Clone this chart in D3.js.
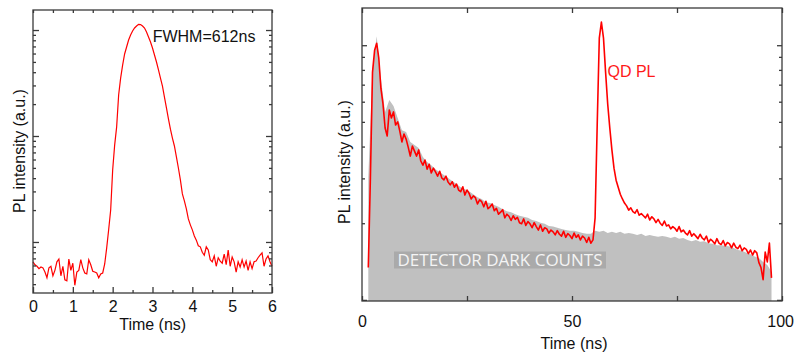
<!DOCTYPE html>
<meta charset="utf-8">
<style>
  body { margin: 0; background: #fff; }
  svg { display: block; font-family: "Liberation Sans", Arial, sans-serif; }
  .frame { fill: none; stroke: #3a3a3a; stroke-width: 1.3; }
  .ticks line { stroke: #3a3a3a; stroke-width: 1.3; }
  .ticks path { display: none; }
  .ticks text { font-size: 16px; fill: #111; font-family: "Liberation Sans", Arial, sans-serif; }
  .title { font-size: 16px; fill: #111; }
</style>
<body>
<script src="https://d3js.org/d3.v7.min.js"></script>
<script>
// left panel: instrument response, sampled every 0.05 ns from 0 ns
var irfStart = 0, irfStep = 0.05;
var irfCounts = [
  6.5, 6.1, 5.9, 5.6, 5.8, 5.7, 5.2, 4.6, 5.7, 5.9,
  4.8, 5.4, 6.5, 6.9, 4.8, 5.9, 4.4, 4.3, 6.9, 5.4,
  6.3, 3.9, 5.2, 5.4, 6.8, 5.7, 5.1, 5.0, 6.8, 6.1,
  5.3, 5.2, 5.1, 4.6, 5.0, 5.1, 6.2, 8.8, 13.1, 20,
  47.8, 82, 122, 244, 352, 467, 594, 691, 805, 897,
  979, 1045, 1091, 1130, 1125, 1091, 1045, 957, 859, 771,
  676, 581, 499, 420, 352, 296, 233, 184, 145, 116,
  95.7, 80.5, 63.4, 49.9, 38.5, 28.4, 24.4, 20.5, 16.5, 14.5,
  13.0, 11.4, 10.4, 9.2, 9.0, 8.0, 7.5, 9.0, 8.4, 6.8,
  6.5, 7.4, 5.9, 7.1, 6.6, 6.3, 7.7, 6.1, 8.4, 5.9,
  7.2, 6.5, 5.2, 6.5, 5.8, 6.8, 5.8, 6.6, 5.4, 6.5,
  5.6, 6.5, 6.6, 7.1, 7.5, 7.9, 5.9, 6.9, 7.4, 6.5, 5.9
];
var irfTimeTicks = [0, 1, 2, 3, 4, 5, 6];
var irfTimeMinor = [0.5, 1.5, 2.5, 3.5, 4.5, 5.5];
var irfYMajor = [10, 100, 1000];
var irfYMinor = [4, 5, 6, 7, 8, 9, 20, 30, 40, 50, 60, 70, 80, 90, 200, 300, 400, 500, 600, 700, 800, 900];

// right panel: QD PL, sampled every 0.5 ns from 1.5 ns
var plStart = 1.5, plStep = 0.5;
var plCounts = [
  134, 301, 782, 955, 1018, 889, 678, 588, 473, 440,
  557, 518, 547, 486, 500, 460, 417, 448, 428, 398,
  367, 402, 384, 367, 388, 351, 338, 354, 326, 341,
  315, 329, 318, 306, 320, 301, 296, 306, 290, 283,
  291, 277, 285, 270, 266, 278, 258, 270, 262, 249,
  256, 252, 238, 247, 243, 232, 244, 228, 232, 238,
  224, 229, 217, 221, 226, 210, 217, 213, 205, 214,
  207, 211, 201, 199, 208, 196, 203, 199, 192, 201,
  194, 188, 197, 186, 192, 190, 183, 188, 185, 180,
  187, 181, 178, 186, 176, 182, 179, 174, 183, 176,
  180, 172, 178, 175, 168, 176, 167, 172, 210, 486,
  1066, 1232, 1066, 782, 588, 473, 388, 329, 295, 277,
  260, 249, 240, 234, 225, 230, 222, 219, 226, 215,
  218, 214, 210, 217, 206, 212, 208, 201, 207, 200,
  196, 204, 195, 197, 190, 194, 191, 186, 194, 185,
  188, 183, 180, 187, 178, 182, 178, 174, 181, 175,
  172, 178, 168, 173, 170, 166, 174, 167, 165, 171,
  163, 168, 166, 160, 167, 161, 159, 164, 156, 160,
  158, 152, 157, 150, 156, 153, 140, 134, 120, 154,
  141, 167, 122
];
// detector dark counts, every 1 ns from 1.5 ns
var darkStart = 1.5, darkStep = 1;
var darkCounts = [
  303, 810, 1085, 742, 547, 610, 577, 518, 464, 456,
  417, 406, 395, 364, 348, 338, 326, 317, 309, 301,
  293, 285, 277, 272, 267, 260, 253, 249, 242, 240,
  236, 232, 227, 223, 221, 217, 214, 212, 210, 206,
  204, 201, 199, 195, 194, 192, 190, 188, 187, 187,
  185, 183, 182, 182, 187, 185, 187, 183, 185, 183,
  185, 182, 183, 182, 180, 182, 178, 180, 178, 177,
  178, 177, 175, 177, 174, 175, 172, 170, 172, 169,
  170, 167, 166, 164, 164, 163, 162, 160, 157, 156,
  153, 151, 148, 146, 141, 137, 129
];
var plTimeLabels = [0, 50, 100];
var plTimeMinor = [25, 75];
var plYMajor = [100, 1000];
var plYMinor = [200, 300, 400, 500, 600, 700, 800, 900];

var svg = d3.select("body").append("svg")
    .attr("width", 794)
    .attr("height", 353);

function toPoints(counts, t0, dt) {
  return counts.map(function(v, i) { return { t: t0 + i * dt, v: v }; });
}

function frameAxes(g, x, y, box, o) {
  // ticks point inward on all four sides
  var labels = g.append("g").attr("class", "ticks")
    .attr("transform", "translate(0," + box.bottom + ")")
    .call(d3.axisBottom(x).tickValues(o.xLabels).tickSizeInner(-o.major).tickSizeOuter(0)
      .tickPadding(o.pad).tickFormat(d3.format("d")));
  g.append("g").attr("class", "ticks")
    .attr("transform", "translate(0," + box.bottom + ")")
    .call(d3.axisBottom(x).tickValues(o.xMinor).tickSizeInner(-o.minorX).tickSizeOuter(0).tickFormat(""));
  g.append("g").attr("class", "ticks")
    .attr("transform", "translate(0," + box.top + ")")
    .call(d3.axisTop(x).tickValues(o.xLabels.concat(o.xMinor)).tickSizeInner(-o.minorX).tickSizeOuter(0).tickFormat(""));
  [["left", box.left], ["right", box.right]].forEach(function(s) {
    var ax = s[0] == "left" ? d3.axisLeft : d3.axisRight;
    g.append("g").attr("class", "ticks")
      .attr("transform", "translate(" + s[1] + ",0)")
      .call(ax(y).tickValues(o.yMajor).tickSizeInner(-o.major).tickSizeOuter(0).tickFormat(""));
    g.append("g").attr("class", "ticks")
      .attr("transform", "translate(" + s[1] + ",0)")
      .call(ax(y).tickValues(o.yMinor).tickSizeInner(-3).tickSizeOuter(0).tickFormat(""));
  });
  g.append("rect").attr("class", "frame")
    .attr("x", box.left).attr("y", box.top)
    .attr("width", box.right - box.left).attr("height", box.bottom - box.top);
  return labels;
}

// ---- left panel
var L = { left: 33, right: 272, top: 10, bottom: 293 };
var xL = d3.scaleLinear().domain([0, 6]).range([L.left, L.right]);
var yL = d3.scaleLog().domain([3.3, 1545]).range([L.bottom, L.top]);
var gL = svg.append("g");

gL.append("path")
  .datum(toPoints(irfCounts, irfStart, irfStep))
  .attr("fill", "none")
  .attr("stroke", "#ff0000")
  .attr("stroke-width", 1.2)
  .attr("d", d3.line().x(function(d) { return xL(d.t); }).y(function(d) { return yL(d.v); }));

frameAxes(gL, xL, yL, L, { xLabels: irfTimeTicks, xMinor: irfTimeMinor, yMajor: irfYMajor, yMinor: irfYMinor, major: 6, minorX: 3, pad: 8 });

gL.append("text").attr("class", "title")
  .attr("x", 152.7).attr("y", 41.5)
  .text("FWHM=612ns");
gL.append("text").attr("class", "title")
  .attr("text-anchor", "middle")
  .attr("x", 152.7).attr("y", 330)
  .text("Time (ns)");
gL.append("text").attr("class", "title")
  .attr("text-anchor", "middle")
  .attr("transform", "translate(25,151) rotate(-90)")
  .text("PL intensity (a.u.)");

// ---- right panel
var R = { left: 362, right: 782, top: 8, bottom: 301 };
var xR = d3.scaleLinear().domain([0, 100]).range([R.left, R.right]);
var yR = d3.scaleLog().domain([99, 1400]).range([R.bottom, R.top]);
var gR = svg.append("g");

gR.append("path")
  .datum(toPoints(darkCounts, darkStart, darkStep))
  .attr("fill", "#c0c0c0")
  .attr("d", d3.area().x(function(d) { return xR(d.t); }).y0(R.bottom).y1(function(d) { return yR(d.v); }));

gR.append("path")
  .datum(toPoints(plCounts, plStart, plStep))
  .attr("fill", "none")
  .attr("stroke", "#ff0000")
  .attr("stroke-width", 1.6)
  .attr("stroke-linejoin", "round")
  .attr("d", d3.line().x(function(d) { return xR(d.t); }).y(function(d) { return yR(d.v); }));

var rLabels = frameAxes(gR, xR, yR, R, { xLabels: plTimeLabels, xMinor: plTimeMinor, yMajor: plYMajor, yMinor: plYMinor, major: 5, minorX: 5, pad: 15 });
// the last label sits at the page edge: pull it in a little
rLabels.selectAll("text").filter(function(d) { return d == 100; })
  .attr("text-anchor", "end").attr("dx", 11.5);

gR.append("rect")
  .attr("x", 394).attr("y", 251.5).attr("width", 212).attr("height", 17)
  .attr("fill", "#aaaaaa");
gR.append("text")
  .attr("x", 500).attr("y", 266)
  .attr("text-anchor", "middle")
  .style("font-family", "'Open Sans', sans-serif")
  .style("font-size", "17px")
  .attr("fill", "#f4f4f4")
  .text("DETECTOR DARK COUNTS");

gR.append("text").attr("class", "title")
  .attr("x", 607.5).attr("y", 76.5)
  .style("fill", "#ff1a1a")
  .text("QD PL");
gR.append("text").attr("class", "title")
  .attr("text-anchor", "middle")
  .attr("x", 574).attr("y", 349)
  .text("Time (ns)");
gR.append("text").attr("class", "title")
  .attr("text-anchor", "middle")
  .attr("transform", "translate(350,162) rotate(-90)")
  .text("PL intensity (a.u.)");
</script>
